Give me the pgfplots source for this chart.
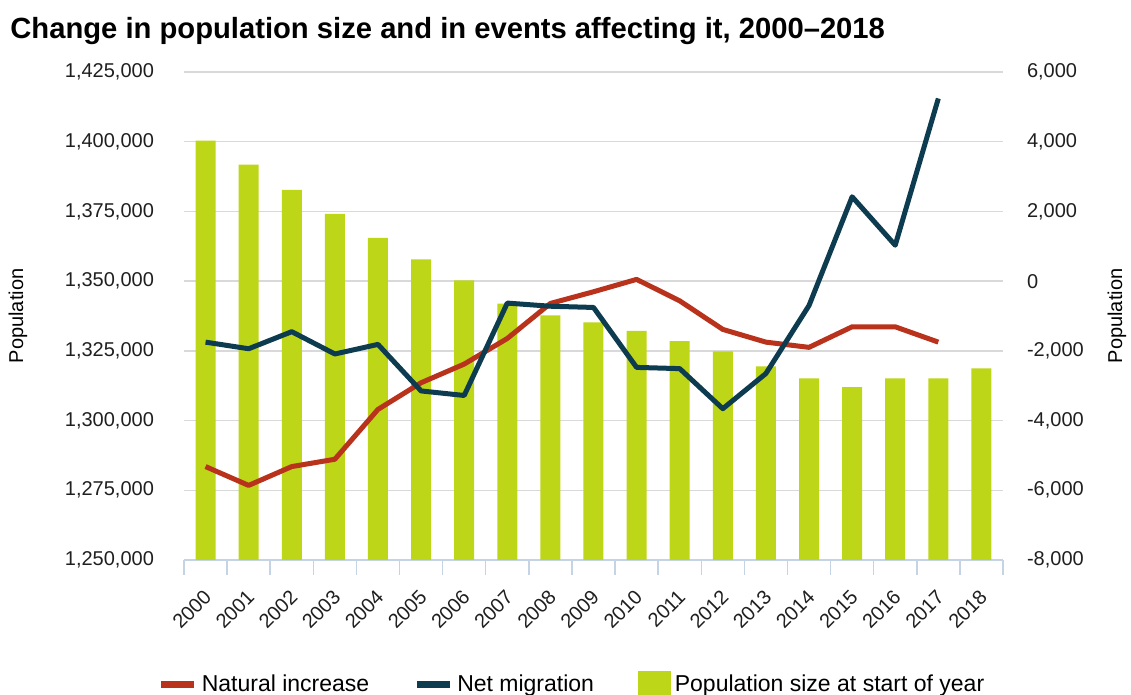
\documentclass[border=0pt]{standalone}
\usepackage{fontspec}
\setmainfont{Liberation Sans}
\usepackage{pgfplots}
\pgfplotsset{compat=1.18}

\definecolor{natcol}{RGB}{184,50,28}
\definecolor{migcol}{RGB}{13,60,80}
\definecolor{barcol}{RGB}{190,214,24}
\definecolor{gridcol}{RGB}{217,217,217}
\definecolor{axiscol}{RGB}{196,212,228}

\pgfplotsset{
  base/.style={
    width=409.5pt, height=244pt, scale only axis,
    xmin=-0.5, xmax=18.5,
    enlarge x limits=false,
    /pgf/number format/assume math mode=true,
    /pgf/number format/fixed,
    /pgf/number format/precision=0,
    /pgf/number format/1000 sep={,},
    scaled y ticks=false,
    major tick length=0pt,
    tick label style={font=\fontsize{10}{12}\selectfont, text=black!88},
    label style={font=\fontsize{10}{12}\selectfont},
  }
}

\begin{document}
\begin{tikzpicture}
% population (left axis)
\begin{axis}[base,
  ymin=1250000, ymax=1425000,
  ytick={1250000,1275000,1300000,1325000,1350000,1375000,1400000,1425000},
  axis x line*=bottom, axis y line*=left,
  y axis line style={draw=none},
  x axis line style={draw=axiscol, line width=0.75pt, -},
  ymajorgrids, grid style={draw=gridcol, line width=0.75pt},
  xtick={0,...,18},
  xticklabels={2000,2001,2002,2003,2004,2005,2006,2007,2008,2009,2010,2011,2012,2013,2014,2015,2016,2017,2018},
  xticklabel style={xshift=-1.5pt, rotate=45, anchor=north east, inner sep=0pt},
  xticklabel shift=14pt,
  extra x ticks={-0.5,0.5,...,18.5}, extra x tick labels={},
  extra x tick style={major tick length=7.5pt, tick align=outside,
    tick style={draw=axiscol, line width=0.75pt}},
  yticklabel style={xshift=-11.5pt},
  ylabel=Population,
  ylabel style={at={(axis description cs:-0.2027,0.5)}, anchor=center},
  title={Change in population size and in events affecting it, 2000--2018},
  title style={at={(axis description cs:-0.2125,1.045)}, anchor=base west,
    inner sep=0pt, font=\bfseries\fontsize{14.6}{17}\selectfont},
]
\addplot[ybar, bar width=10pt, fill=barcol, draw=none] coordinates {
  (0,1400400) (1,1391800) (2,1382700) (3,1374100) (4,1365500)
  (5,1357800) (6,1350300) (7,1341900) (8,1337700) (9,1335200)
  (10,1332200) (11,1328500) (12,1324800) (13,1319400) (14,1315100)
  (15,1312000) (16,1315100) (17,1315100) (18,1318700)
};
\end{axis}
% natural increase and net migration (right axis)
\begin{axis}[base,
  ymin=-8000, ymax=6000,
  ytick={-8000,-6000,-4000,-2000,0,2000,4000,6000},
  axis y line*=right, axis x line=none,
  y axis line style={draw=none},
  yticklabel style={xshift=8.5pt, anchor=west},
  ylabel=Population,
  ylabel style={at={(axis description cs:1.139,0.5)}, anchor=center},
  legend columns=3,
  legend style={at={(0.475,-0.256)}, anchor=center, draw=none, fill=none,
    font=\fontsize{11.5}{13}\selectfont,
    /tikz/every even column/.append style={column sep=20pt}},
  legend image code/.code={\draw[#1, line width=3.5pt, line cap=butt] (0pt,0pt) -- (16.5pt,0pt);},
]
\addplot[natcol, line width=2.5pt, line join=round] coordinates {
  (0,-5320) (1,-5860) (2,-5320) (3,-5110) (4,-3680) (5,-2915)
  (6,-2380) (7,-1645) (8,-640) (9,-305) (10,50) (11,-565)
  (12,-1385) (13,-1750) (14,-1900) (15,-1310) (16,-1310) (17,-1750)
};
\addplot[migcol, line width=2.5pt, line join=round] coordinates {
  (0,-1750) (1,-1940) (2,-1450) (3,-2090) (4,-1815) (5,-3150)
  (6,-3280) (7,-630) (8,-720) (9,-755) (10,-2475) (11,-2510)
  (12,-3660) (13,-2650) (14,-700) (15,2420) (16,1030) (17,5240)
};
\addlegendimage{legend image code/.code={\fill[barcol] (0pt,-7pt) rectangle (16pt,7pt);}}
\legend{Natural increase, Net migration, Population size at start of year}
\coordinate (bbsw) at (axis description cs:-0.22466,-0.27664);
\coordinate (bbne) at (axis description cs:1.15629,1.14754);
\end{axis}
\pgfresetboundingbox
\path[use as bounding box] (bbsw) rectangle (bbne);
\end{tikzpicture}
\end{document}
